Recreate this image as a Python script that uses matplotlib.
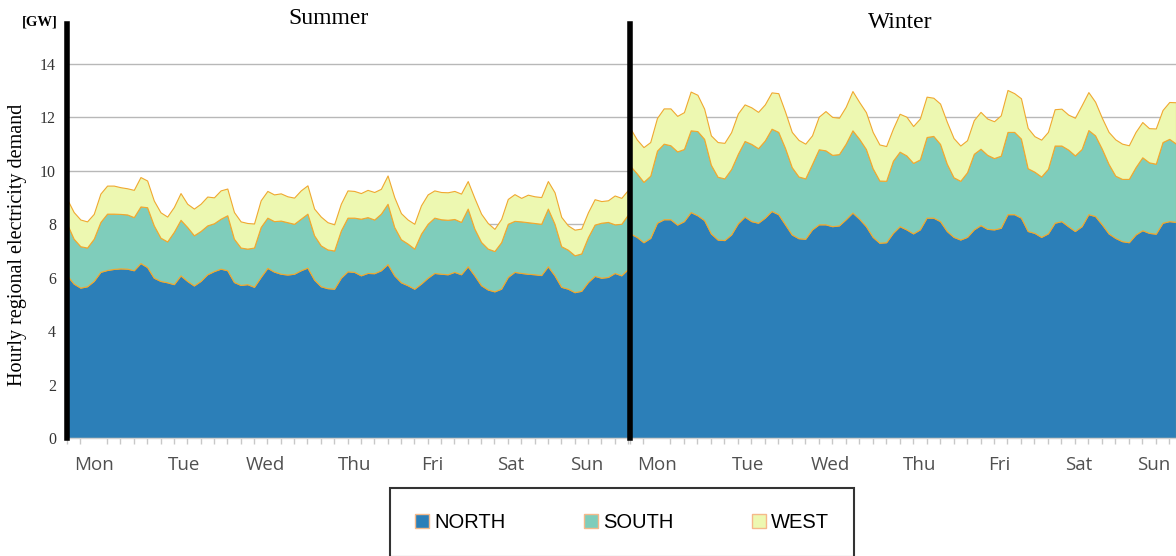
import numpy as np
import matplotlib.pyplot as plt
from matplotlib.patches import Patch
from matplotlib.ticker import MultipleLocator

plt.rcParams['font.family'] = ['Liberation Serif', 'DejaVu Serif']

# hourly demand in GW, read every 2 hours
summer_hours = np.arange(0, 169, 2)
summer_north = [6.09, 5.78, 5.63, 5.68, 5.88, 6.22, 6.29, 6.33, 6.35, 6.34, 6.28, 6.55, 6.40, 6.00, 5.88,
                5.83, 5.76, 6.09, 5.88, 5.71, 5.88, 6.13, 6.25, 6.34, 6.28, 5.84, 5.73, 5.76, 5.66, 6.03,
                6.37, 6.23, 6.15, 6.12, 6.15, 6.28, 6.38, 5.93, 5.68, 5.61, 5.59, 6.00, 6.24,
                6.22, 6.09, 6.18, 6.17, 6.28, 6.51, 6.09, 5.83, 5.72, 5.59, 5.78, 6.00, 6.18, 6.15, 6.13,
                6.22, 6.13, 6.43, 6.09, 5.72, 5.56, 5.49, 5.59, 6.03, 6.22, 6.18, 6.15, 6.13, 6.10, 6.43,
                6.09, 5.66, 5.59, 5.46, 5.51, 5.84, 6.07, 6.00, 6.03, 6.18, 6.09, 6.33]
summer_south = [1.93, 1.68, 1.55, 1.45, 1.58, 1.87, 2.11, 2.07, 2.04, 2.03, 1.99, 2.12, 2.24, 1.96, 1.62,
                1.53, 1.96, 2.08, 2.02, 1.88, 1.87, 1.83, 1.79, 1.87, 2.06, 1.62, 1.40, 1.33, 1.47, 1.87,
                1.88, 1.89, 1.99, 1.96, 1.87, 1.93, 2.02, 1.66, 1.53, 1.45, 1.43, 1.77, 2.01,
                2.03, 2.12, 2.09, 2.01, 2.12, 2.26, 1.81, 1.61, 1.56, 1.50, 1.87, 2.02, 2.07, 2.04, 2.04,
                1.98, 1.96, 2.16, 1.75, 1.62, 1.53, 1.51, 1.74, 1.99, 1.91, 1.93, 1.93, 1.92, 1.92, 2.16,
                1.93, 1.52, 1.46, 1.38, 1.40, 1.68, 1.92, 2.06, 2.06, 1.82, 1.93, 2.04]
summer_west = [0.93, 1.00, 1.00, 0.98, 0.93, 1.06, 1.05, 1.05, 1.00, 0.98, 1.02, 1.10, 1.00, 0.93, 0.95,
               0.93, 0.93, 1.00, 0.87, 1.00, 1.02, 1.08, 0.97, 1.06, 1.00, 1.00, 0.98, 0.96, 0.90, 1.00,
               1.00, 1.00, 1.02, 0.97, 0.98, 1.06, 1.06, 1.00, 1.08, 1.02, 0.98, 1.00, 1.02,
               1.00, 0.96, 1.02, 1.03, 0.93, 1.06, 1.12, 0.98, 0.90, 0.93, 1.06, 1.10, 1.02, 1.02, 1.03,
               1.05, 1.06, 1.03, 1.15, 1.06, 0.96, 0.83, 0.87, 0.93, 1.00, 0.88, 1.03, 1.00, 1.00, 1.03,
               1.18, 1.10, 0.91, 0.96, 0.93, 0.93, 0.95, 0.81, 0.81, 1.08, 0.97, 0.92]

winter_hours = np.arange(0, 163, 2)
winter_north = [7.66, 7.53, 7.33, 7.49, 8.06, 8.19, 8.19, 7.99, 8.12, 8.46, 8.34, 8.16, 7.66, 7.43, 7.41,
                7.62, 8.04, 8.29, 8.12, 8.06, 8.25, 8.50, 8.38, 8.00, 7.62, 7.48, 7.46, 7.81, 8.00, 8.00,
                7.93, 7.96, 8.19, 8.44, 8.21, 7.93, 7.53, 7.31, 7.33, 7.68, 7.93,
                7.81, 7.66, 7.81, 8.25, 8.25, 8.12, 7.75, 7.53, 7.43, 7.53, 7.81, 7.97, 7.83, 7.81, 7.87,
                8.38, 8.38, 8.25, 7.75, 7.68, 7.53, 7.66, 8.06, 8.12, 7.93, 7.75, 7.93, 8.38, 8.31, 8.00,
                7.66, 7.49, 7.37, 7.33, 7.62, 7.78, 7.68, 7.65, 8.06, 8.12, 8.09]
winter_south = [2.54, 2.38, 2.26, 2.33, 2.70, 2.83, 2.77, 2.74, 2.70, 3.06, 3.15, 3.04, 2.57, 2.35, 2.31,
                2.45, 2.60, 2.83, 2.89, 2.79, 2.89, 3.08, 3.08, 2.86, 2.52, 2.31, 2.26, 2.45, 2.81, 2.77,
                2.67, 2.67, 2.83, 3.08, 2.99, 2.89, 2.57, 2.33, 2.30, 2.70, 2.79,
                2.77, 2.64, 2.62, 3.02, 3.06, 2.89, 2.52, 2.23, 2.20, 2.42, 2.83, 2.86, 2.77, 2.67, 2.70,
                3.08, 3.08, 2.96, 2.35, 2.29, 2.26, 2.42, 2.89, 2.83, 2.87, 2.83, 2.89, 3.15, 3.02, 2.83,
                2.60, 2.33, 2.33, 2.37, 2.52, 2.73, 2.64, 2.62, 3.02, 3.08, 2.93]
winter_west = [1.41, 1.27, 1.30, 1.26, 1.22, 1.32, 1.38, 1.33, 1.38, 1.45, 1.36, 1.13, 1.10, 1.30, 1.33,
               1.38, 1.51, 1.37, 1.37, 1.36, 1.35, 1.36, 1.45, 1.36, 1.32, 1.37, 1.30, 1.07, 1.22, 1.47,
               1.42, 1.36, 1.38, 1.47, 1.38, 1.38, 1.36, 1.35, 1.30, 1.20, 1.42,
               1.45, 1.38, 1.53, 1.51, 1.43, 1.51, 1.57, 1.47, 1.32, 1.20, 1.26, 1.38, 1.36, 1.38, 1.51,
               1.57, 1.45, 1.51, 1.51, 1.33, 1.38, 1.38, 1.36, 1.38, 1.31, 1.41, 1.64, 1.42, 1.26, 1.16,
               1.20, 1.36, 1.32, 1.26, 1.32, 1.32, 1.28, 1.32, 1.20, 1.38, 1.55]

regions = ['NORTH', 'SOUTH', 'WEST']
colors = ['#2c7fb8', '#7fcdbb', '#edf8b1']
edge = '#f0a830'
days = ['Mon', 'Tue', 'Wed', 'Thu', 'Fri', 'Sat', 'Sun']
day_pos = [8, 35, 59.5, 86, 109.5, 133, 155.5]

fig = plt.figure(figsize=(11.76, 5.56), dpi=100)
ax1 = fig.add_axes([67 / 1176, 118 / 556, 561 / 1176, 414 / 556])
ax2 = fig.add_axes([630 / 1176, 118 / 556, 546 / 1176, 414 / 556])

for ax, hrs, n, s, w in [(ax1, summer_hours, summer_north, summer_south, summer_west),
                         (ax2, winter_hours, winter_north, winter_south, winter_west)]:
    ax.stackplot(hrs, n, s, w, colors=colors, edgecolor=edge, linewidth=0.8)
    ax.set_xlim(0, hrs[-1])
    ax.set_ylim(0, 15.5)
    ax.set_yticks(range(0, 15, 2))
    ax.yaxis.grid(True, color='#b8b8b8', linewidth=1)
    ax.set_axisbelow(True)
    for side in ['top', 'right']:
        ax.spines[side].set_visible(False)
    ax.spines['left'].set_linewidth(4)
    ax.spines['left'].set_color('black')
    ax.spines['left'].set_zorder(5)
    ax.spines['bottom'].set_color('#d0d0d0')
    ax.spines['bottom'].set_linewidth(1)
    ax.set_xticks(day_pos)
    ax.set_xticklabels(days, family='Open Sans', fontsize=13.5, color='#505050')
    ax.xaxis.set_minor_locator(MultipleLocator(4))
    ax.tick_params(axis='x', which='major', length=0, pad=13)
    ax.tick_params(axis='x', which='minor', length=4, color='#c8c8c8', width=1)

ax1.tick_params(axis='y', length=0, pad=8, labelsize=11.5, labelcolor='#333333')
ax2.tick_params(axis='y', length=0, labelleft=False)

fig.text(328 / 1176, 1 - 18 / 556, 'Summer', ha='center', va='center', fontsize=17)
fig.text(900 / 1176, 1 - 22 / 556, 'Winter', ha='center', va='center', fontsize=17)
fig.text(40 / 1176, 1 - 22 / 556, '[GW]', ha='center', va='center', fontsize=10.5, fontweight='bold')
fig.text(18 / 1176, 1 - 245 / 556, 'Hourly regional electricity demand', rotation=90,
         ha='center', va='center', fontsize=14.5)

handles = [Patch(facecolor=c, edgecolor='#f5b98a', linewidth=1) for c in colors]
leg = fig.legend(handles, regions, loc='upper center', bbox_to_anchor=(622 / 1176, 1 - 488 / 556),
                 borderaxespad=0, ncol=3, frameon=True, fancybox=False, edgecolor='black',
                 borderpad=1.25, handlelength=0.7, handleheight=0.7, handletextpad=0.25,
                 columnspacing=3.9, prop={'family': 'Liberation Sans', 'size': 14.5})
leg.get_frame().set_linewidth(1.5)

fig.savefig('out.png', dpi=100)
